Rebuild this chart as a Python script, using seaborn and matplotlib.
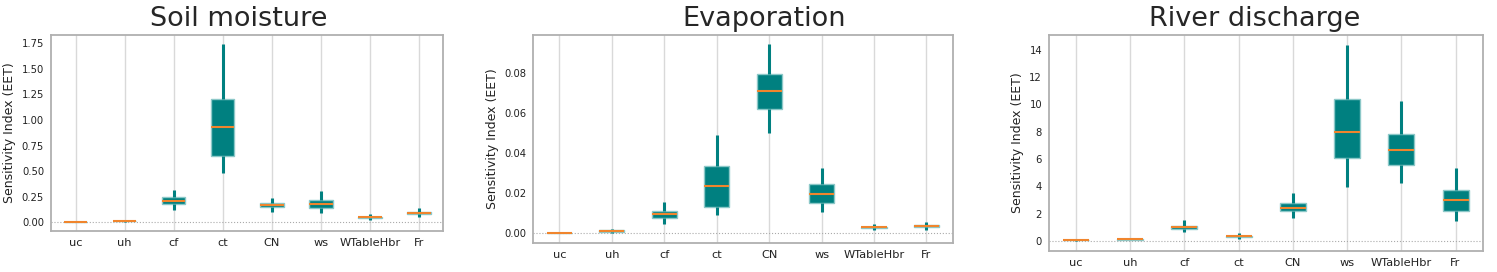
import matplotlib
matplotlib.use("Agg")
import matplotlib.pyplot as plt
import pandas as pd
import seaborn as sns

# five-number summaries: [whisker low, q1, median, q3, whisker high]
params = ["uc", "uh", "cf", "ct", "CN", "ws", "WTableHbr", "Fr"]

soil_vals = [
    [0.0, 0.0, 0.0, 0.001, 0.002],
    [0.0, 0.008, 0.01, 0.012, 0.02],
    [0.117, 0.176, 0.21, 0.25, 0.32],
    [0.485, 0.65, 0.935, 1.205, 1.74],
    [0.105, 0.147, 0.17, 0.185, 0.24],
    [0.095, 0.143, 0.18, 0.22, 0.305],
    [0.025, 0.042, 0.05, 0.055, 0.08],
    [0.05, 0.078, 0.09, 0.105, 0.143],
]
evap_vals = [
    [0.0, 0.0, 0.0, 0.0001, 0.0002],
    [0.0, 0.0007, 0.001, 0.0013, 0.002],
    [0.0045, 0.0073, 0.0093, 0.0112, 0.0155],
    [0.009, 0.013, 0.0235, 0.0333, 0.049],
    [0.05, 0.0623, 0.071, 0.0797, 0.0947],
    [0.0103, 0.015, 0.0193, 0.0243, 0.0327],
    [0.0013, 0.0025, 0.0028, 0.0032, 0.0047],
    [0.0017, 0.003, 0.0035, 0.004, 0.0055],
]
river_vals = [
    [0.0, 0.03, 0.05, 0.08, 0.12],
    [0.03, 0.07, 0.1, 0.13, 0.2],
    [0.64, 0.86, 0.98, 1.1, 1.49],
    [0.15, 0.24, 0.32, 0.37, 0.54],
    [1.69, 2.17, 2.39, 2.74, 3.49],
    [3.96, 6.08, 7.96, 10.41, 14.39],
    [4.23, 5.55, 6.67, 7.84, 10.29],
    [1.47, 2.22, 2.96, 3.74, 5.35],
]

titles = ["Soil moisture", "Evaporation", "River discharge"]
ylims = [(-0.085, 1.83), (-0.0049, 0.0992), (-0.73, 15.1)]
yticks = [
    [0.0, 0.25, 0.5, 0.75, 1.0, 1.25, 1.5, 1.75],
    [0.0, 0.02, 0.04, 0.06, 0.08],
    [0, 2, 4, 6, 8, 10, 12, 14],
]
ytick_fmt = ["{:.2f}", "{:.2f}", "{:.0f}"]

# axes rectangles and title centres in figure fractions
ax_rects = [
    [0.0341, 0.1507, 0.2621, 0.7206],
    [0.3562, 0.1077, 0.2802, 0.7636],
    [0.7007, 0.0783, 0.2897, 0.7930],
]
title_x = [239 / 1497, 764 / 1497, 1255 / 1497]

TEAL = "#008080"
EDGE = "#8cc8c8"
ORANGE = "#f0852d"
SPINE = "#b0b0b0"


def to_long(vals):
    rows = []
    for name, v in zip(params, vals):
        for x in v:
            rows.append({"param": name, "value": x})
    return pd.DataFrame(rows)


sns.set_style("white")
plt.rcParams["font.family"] = ["DejaVu Sans"]

fig = plt.figure(figsize=(14.97, 2.72), dpi=100)

for i, vals in enumerate([soil_vals, evap_vals, river_vals]):
    ax = fig.add_axes(ax_rects[i])
    df = to_long(vals)
    ax.axhline(0, color="#aaaaaa", linestyle=":", linewidth=0.8, zorder=1)
    sns.boxplot(
        data=df, x="param", y="value", order=params, ax=ax,
        whis=(0, 100), width=0.48, saturation=1, color=TEAL,
        showcaps=False, showfliers=False,
        boxprops=dict(facecolor=TEAL, edgecolor=EDGE, linewidth=1.0),
        whiskerprops=dict(color=TEAL, linewidth=2.2),
        medianprops=dict(color=ORANGE, linewidth=1.5),
    )
    # seaborn switches the grid off on the categorical axis, so add it back here
    ax.xaxis.grid(True, color="#d9d9d9", linewidth=1.0)
    ax.set_axisbelow(True)
    ax.set_xlim(-0.5, 7.5)
    ax.set_ylim(*ylims[i])
    ax.set_yticks(yticks[i])
    ax.set_yticklabels([ytick_fmt[i].format(t) for t in yticks[i]])
    ax.set_xlabel("")
    ax.set_ylabel("Sensitivity Index (EET)", fontsize=9, color="#222222")
    ax.tick_params(axis="y", labelsize=7.2, length=3, color="#555555", labelcolor="#222222", pad=2)
    ax.tick_params(axis="x", labelsize=8.2, length=3, color="#999999", labelcolor="#222222", pad=2)
    for s in ax.spines.values():
        s.set_color(SPINE)
        s.set_linewidth(1.3)
    fig.text(title_x[i], 0.904, titles[i], ha="center", va="baseline", fontsize=19.5)

fig.savefig("out.png", dpi=100)
